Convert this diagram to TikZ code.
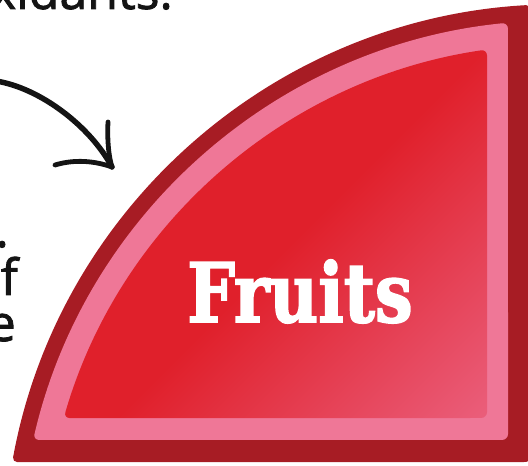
\documentclass[tikz,border=0pt]{standalone}
\usepackage{fontspec}
\usepackage{graphicx}
\setmainfont{Open Sans}[FakeBold=1.6]
\newfontfamily\slabfont{DejaVu Serif}[UprightFont={* Bold}, FakeBold=2.2]
\definecolor{rimred}{HTML}{A71C24}
\definecolor{rimpink}{HTML}{EF7797}
\definecolor{fillred}{HTML}{E0202B}
\definecolor{fillpink}{HTML}{EB6381}
\definecolor{textgray}{HTML}{141414}
\pgfdeclarehorizontalshading{fruitgrad}{100bp}{color(0bp)=(fillred); color(44bp)=(fillred); color(72bp)=(fillpink); color(100bp)=(fillpink)}
\begin{document}
\begin{tikzpicture}[x=1pt,y=1pt,
  bodytext/.style={font=\fontsize{50}{50}\selectfont, text=textgray, inner sep=0pt, anchor=base east},
  fruitlabel/.style={font=\slabfont\fontsize{82}{82}\selectfont, text=white, inner sep=0pt, anchor=base},
  arrowline/.style={draw=textgray, line width=5.5pt, line cap=round},
  barbline/.style={draw=textgray, line width=4.8pt, line cap=round}]
\useasboundingbox (0,0) rectangle (528,466);
\clip (0,0) rectangle (528,466);
\coordinate (C) at (562,-97);
% outer dark rim
\fill[rimred, rounded corners=5pt] (C) ++(169.6:559) arc[start angle=169.6, end angle=93.18, radius=559] -- (531,4) -- cycle;
% pink band
\fill[rimpink, rounded corners=6pt] (C) ++(166.9:543) arc[start angle=166.9, end angle=95.71, radius=543] -- (508,26) -- cycle;
% inner red with gradient
\shade[shading=fruitgrad, shading angle=-45, rounded corners=6pt] (C) ++(163.78:519) arc[start angle=163.78, end angle=98.31, radius=519] -- (487,48) -- cycle;
% label
\node[fruitlabel] (fruits) at (300,144) {\scalebox{0.82}[1]{Fruits}};
% cut-off text
\node[bodytext] (toptext) at (173,457) {xidants.};
\node[bodytext] (lineone) at (9,219) {.};
\node[bodytext] (linetwo) at (18,171) {f};
\node[bodytext] (linethree) at (16,125) {e};
% arrow
\coordinate (arrstart) at (-4,385);
\coordinate (arrtip) at (112,299);
\coordinate (barbup) at (108,344);
\coordinate (barbleft) at (55,301);
\draw[arrowline] (arrstart) .. controls (40,378) and (90,340) .. (arrtip);
\draw[barbline] (barbup) .. controls (107,325) and (109,308) .. (arrtip);
\draw[barbline] (barbleft) .. controls (75,307) and (95,305) .. (arrtip);
\end{tikzpicture}
\end{document}
